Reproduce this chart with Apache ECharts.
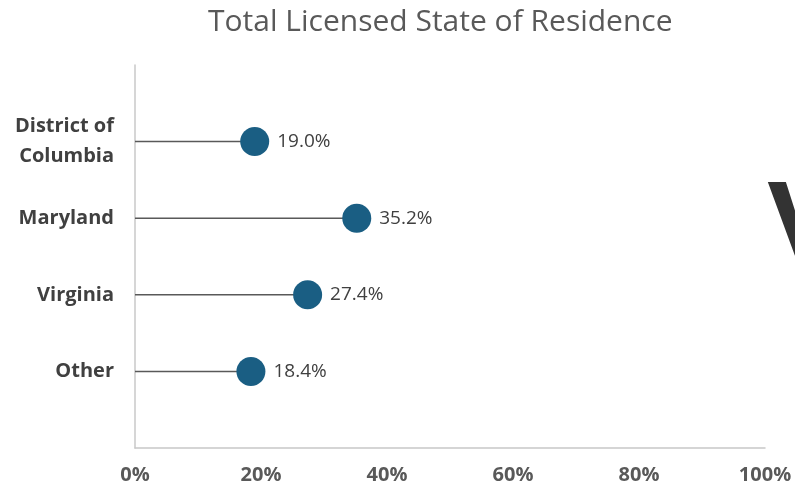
<!DOCTYPE html>
<html>
<head>
    <meta charset="utf-8">
    <title>Total Licensed State of Residence</title>
    <script src="https://cdn.jsdelivr.net/npm/echarts@6/dist/echarts.min.js"></script>
    <style>
        html, body { margin: 0; padding: 0; background: #fff; }
    </style>
</head>
<body>

<div id="main" style="width: 795px;height:492px;"></div>

<script type="text/javascript">

    // data
    var states = ['District of\nColumbia', 'Maryland', 'Virginia', 'Other'];
    var shares = [19.0, 35.2, 27.4, 18.4];
    var rowPos = [4, 3, 2, 1];   // y position of each row on the 0..5 axis
    var xTicks = [0, 20, 40, 60, 80, 100];

    var points = [];
    for (var i = 0; i < states.length; i++) {
        points.push([shares[i], rowPos[i]]);
    }

    var myChart = echarts.init(document.getElementById('main'));

    var option = {
        animation: false,
        title: {
            text: 'Total Licensed State of Residence',
            left: 203,
            top: 2,
            textStyle: {
                fontFamily: 'Open Sans',
                fontSize: 30,
                fontWeight: 'normal',
                color: '#595959'
            }
        },
        grid: {
            left: 135,
            right: 30,
            top: 65,
            bottom: 44
        },
        xAxis: {
            type: 'value',
            min: xTicks[0],
            max: xTicks[xTicks.length - 1],
            interval: 20,
            splitLine: { show: false },
            axisTick: { show: false },
            axisLine: { show: true, lineStyle: { color: '#c8c8c8', width: 1.5 } },
            axisLabel: {
                margin: 17,
                formatter: '{value}%',
                fontFamily: 'Open Sans',
                fontWeight: 'bold',
                fontSize: 20,
                color: '#595959'
            }
        },
        yAxis: {
            type: 'value',
            min: 0,
            max: 5,
            interval: 1,
            splitLine: { show: false },
            axisTick: { show: false },
            axisLine: { show: true, lineStyle: { color: '#c8c8c8', width: 1.5 } },
            axisLabel: {
                margin: 21,
                fontFamily: 'Open Sans',
                fontWeight: 'bold',
                fontSize: 20,
                lineHeight: 30,
                color: '#404040',
                formatter: function (v) {
                    var k = rowPos.indexOf(v);
                    return k >= 0 ? states[k] : '';
                }
            }
        },
        graphic: [{
            type: 'text',
            x: 767,
            y: 172,
            silent: true,
            style: {
                text: 'V',
                font: 'bold 120px "Liberation Sans"',
                fill: '#333333'
            }
        }],
        series: [
            {
                // stems from 0 to the value
                type: 'custom',
                silent: true,
                data: points,
                renderItem: function (params, api) {
                    var start = api.coord([0, api.value(1)]);
                    var end = api.coord([api.value(0), api.value(1)]);
                    return {
                        type: 'line',
                        shape: { x1: start[0], y1: start[1], x2: end[0], y2: end[1] },
                        style: { stroke: '#595959', lineWidth: 1.5 }
                    };
                },
                z: 1
            },
            {
                type: 'scatter',
                data: points,
                symbol: 'circle',
                symbolSize: 29,
                itemStyle: { color: '#1a5e83', opacity: 1 },
                label: {
                    show: true,
                    position: 'right',
                    distance: 8,
                    fontFamily: 'Open Sans',
                    fontSize: 19,
                    color: '#404040',
                    formatter: function (p) {
                        return p.value[0].toFixed(1) + '%';
                    }
                },
                z: 2
            }
        ]
    };

    myChart.setOption(option);

</script>
</body>
</html>
